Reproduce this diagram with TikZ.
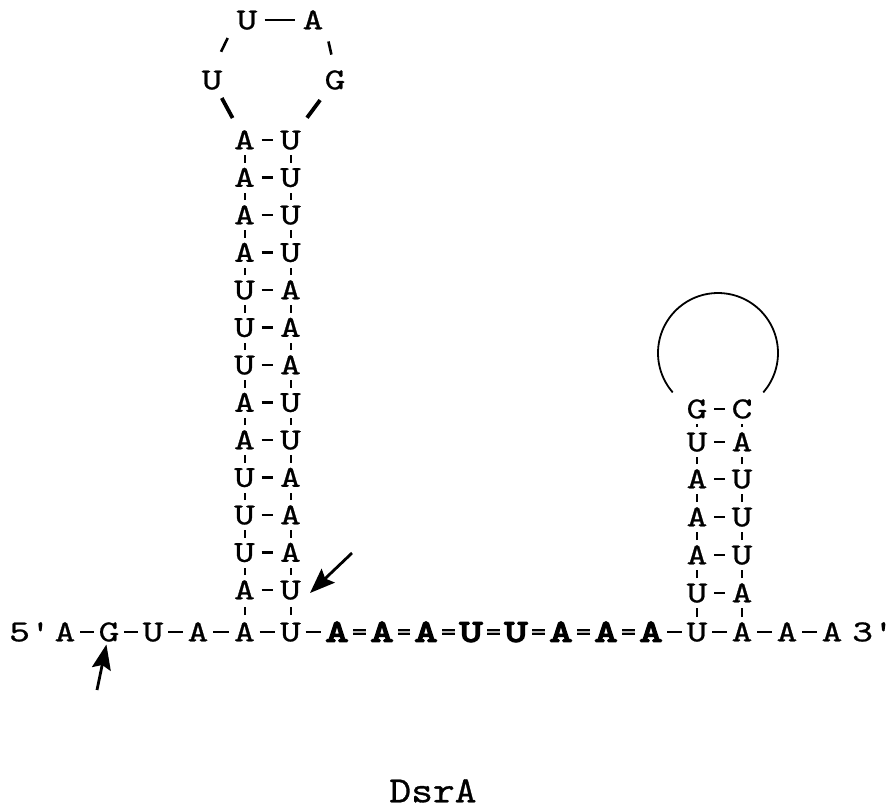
\documentclass[tikz,border=0pt]{standalone}
\usepackage{fontspec}
\newfontfamily\rna{lmmono10-regular}[Extension=.otf, FakeStretch=1.3, FakeBold=0.8]
\newfontfamily\rnab{lmmono10-regular}[Extension=.otf, FakeStretch=1.4, FakeBold=5]
\newfontfamily\rnal{lmmono10-regular}[Extension=.otf, FakeStretch=1.12, FakeBold=0.8]
\usetikzlibrary{arrows.meta}
\tikzset{
  nt/.style={font=\fontsize{30.5}{30.5}\rna, inner sep=0pt, text height=18.6pt, text depth=0pt},
  bt/.style={font=\fontsize{31.5}{31.5}\rnab, inner sep=0pt, text height=19.2pt, text depth=0pt},
  hb/.style={line width=2.5pt, shorten <=4.5pt, shorten >=4.5pt},
  pb/.style={line width=2.5pt, shorten <=6.5pt, shorten >=6.5pt},
  vt/.style={line width=2pt, shorten <=5.5pt, shorten >=5.5pt},
  vtlong/.style={line width=2pt, shorten <=7.5pt, shorten >=7.5pt},
  bd/.style={line width=1.5pt, double=gray!55, double distance=2.8pt, shorten <=4.5pt, shorten >=4.5pt},
  arr/.style={line width=2.8pt, -{Stealth[length=25pt, width=19pt, inset=4pt]}},
  lbl/.style={font=\fontsize{37}{37}\rnal, inner sep=0pt, text height=24pt, text depth=1.4pt}
}
\begin{document}
\begin{tikzpicture}[x=1pt,y=-1pt]
\useasboundingbox (0,0) rectangle (895,807);
% main row
\node[nt] (p5) at (30,632) {5'};
\node[nt] (m1) at (65,632) {A};
\node[nt] (m2) at (109,632) {G};
\node[nt] (m3) at (153,632) {U};
\node[nt] (m4) at (198,632) {A};
\node[nt] (m5) at (244.5,632) {A};
\node[nt] (m6) at (290.5,632) {U};
\node[bt] (b1) at (337,632) {A};
\node[bt] (b2) at (382,632) {A};
\node[bt] (b3) at (426,632) {A};
\node[bt] (b4) at (471,632) {U};
\node[bt] (b5) at (516,632) {U};
\node[bt] (b6) at (561,632) {A};
\node[bt] (b7) at (606,632) {A};
\node[bt] (b8) at (651,632) {A};
\node[nt] (m7) at (697,632) {U};
\node[nt] (m8) at (742,632) {A};
\node[nt] (m9) at (787,632) {A};
\node[nt] (m10) at (832,632) {A};
\node[nt] (p3) at (873,632) {3'};
\draw[hb] (m1) -- (m2);
\draw[hb] (m2) -- (m3);
\draw[hb] (m3) -- (m4);
\draw[hb] (m4) -- (m5);
\draw[hb] (m5) -- (m6);
\draw[hb] (m6) -- (b1);
\draw[bd] (b1) -- (b2);
\draw[bd] (b2) -- (b3);
\draw[bd] (b3) -- (b4);
\draw[bd] (b4) -- (b5);
\draw[bd] (b5) -- (b6);
\draw[bd] (b6) -- (b7);
\draw[bd] (b7) -- (b8);
\draw[hb] (b8) -- (m7);
\draw[hb] (m7) -- (m8);
\draw[hb] (m8) -- (m9);
\draw[hb] (m9) -- (m10);
% left stem
\foreach \k/\a/\b in {1/A/U,2/U/A,3/U/A,4/U/A,5/A/U,6/A/U,7/U/A,8/U/A,9/U/A,10/A/U,11/A/U,12/A/U,13/A/U}{
  \node[nt] (L\k) at (244.5,{590-37.5*(\k-1)}) {\a};
  \node[nt] (R\k) at (290.5,{590-37.5*(\k-1)}) {\b};
  \draw[pb] (L\k) -- (R\k);
}
\foreach \k in {1,...,12}{
  \pgfmathtruncatemacro{\j}{\k+1}
  \draw[vt] (L\k) -- (L\j);
  \draw[vt] (R\k) -- (R\j);
}
\draw[vtlong] (m5) -- (L1);
\draw[vtlong] (m6) -- (R1);
% hairpin loop
\node[nt] (lu1) at (247,20) {U};
\node[nt] (la) at (313,20) {A};
\node[nt] (lu2) at (212,80) {U};
\node[nt] (lg) at (335,80) {G};
\draw[line width=2.5pt, shorten <=7pt, shorten >=7pt] (lu1) -- (la);
\draw[line width=2.6pt, shorten <=20pt, shorten >=20.8pt] (lu1.west) -- (lu2.north);
\draw[line width=2.6pt, shorten <=22pt, shorten >=16.3pt] (la.east) -- (lg.north);
\draw[line width=3.8pt, shorten <=20.5pt, shorten >=25pt] (lu2.center) -- (L13.center);
\draw[line width=3.8pt, shorten <=25pt, shorten >=27.7pt] (lg.center) -- (R13.center);
% right stem
\foreach \k/\a/\b/\y in {1/U/A/593,2/A/U/555,3/A/U/517,4/A/U/479,5/U/A/442,6/G/C/409}{
  \node[nt] (S\k) at (697,\y) {\a};
  \node[nt] (T\k) at (742,\y) {\b};
  \draw[pb] (S\k) -- (T\k);
}
\foreach \k in {1,...,5}{
  \pgfmathtruncatemacro{\j}{\k+1}
  \draw[vt] (S\k) -- (S\j);
  \draw[vt] (T\k) -- (T\j);
}
\draw[vt] (m7) -- (S1);
\draw[vt] (m8) -- (T1);
\draw[line width=1.8pt] plot[domain=139:401, samples=90] ({718+60*cos(\x)}, {353+60*sin(\x)});
% arrows
\coordinate (t1) at (352,553);
\coordinate (h1) at (310,593);
\draw[arr] (t1) -- (h1);
\coordinate (t2) at (97,690);
\draw[arr, shorten >=3pt] (t2) -- (m2);
% label
\node[lbl] (name) at (433,791) {DsrA};
\end{tikzpicture}
\end{document}
